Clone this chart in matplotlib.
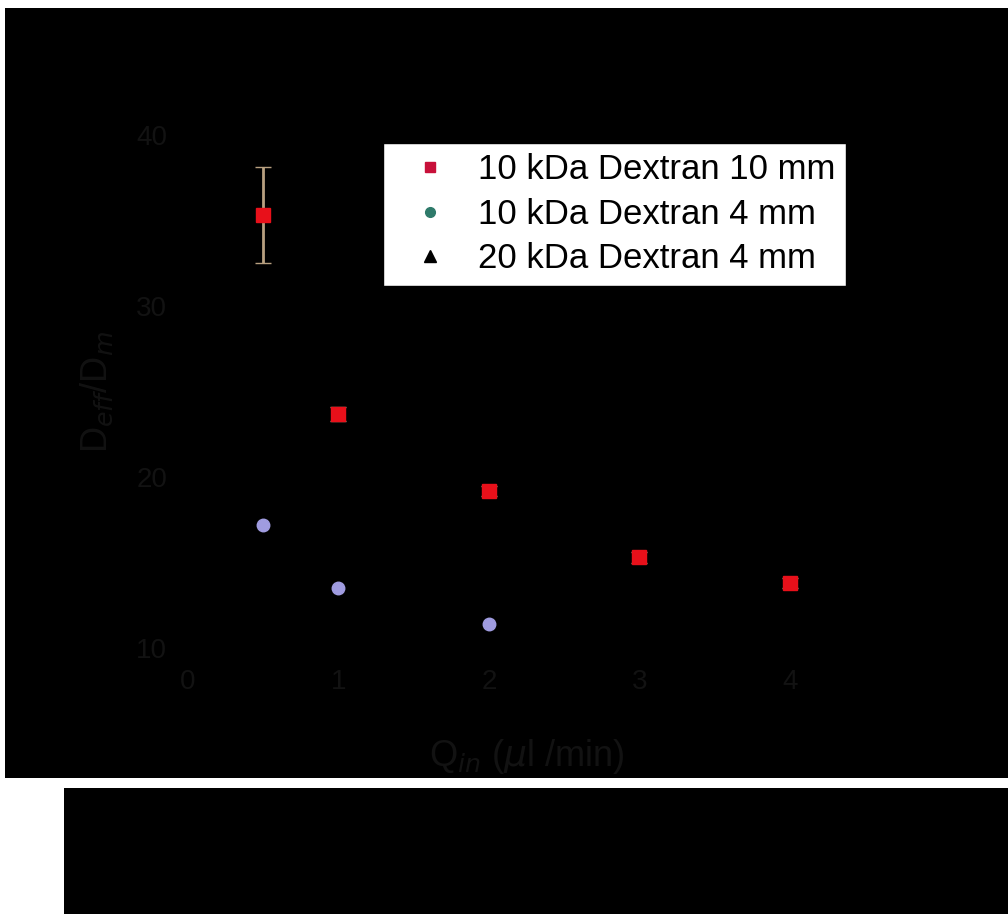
import matplotlib
matplotlib.use("Agg")
from matplotlib import pyplot as plt
from matplotlib.patches import Rectangle
from matplotlib.lines import Line2D

plt.rcParams['font.family'] = ['Liberation Sans', 'DejaVu Sans']

# data
q_red = [0.5, 1, 2, 3, 4]
ratio_red = [35.3, 23.7, 19.2, 15.3, 13.8]
err_red = [2.8, 0.4, 0.3, 0.3, 0.3]

q_blue = [0.5, 1, 2]
ratio_blue = [17.2, 13.5, 11.4]

q_black = []
ratio_black = []

labels = ["10 kDa Dextran 10 mm", "10 kDa Dextran 4 mm", "20 kDa Dextran 4 mm"]
x_ticks = [0, 1, 2, 3, 4]
y_ticks = [10, 20, 30, 40]

W, H = 1008, 914
fig = plt.figure(figsize=(W / 100, H / 100), dpi=100, facecolor='white')

# black panels behind the chart
fig.patches.append(Rectangle((5 / W, 1 - 778 / H), (W - 5) / W, (778 - 8) / H,
                             transform=fig.transFigure, facecolor='black', edgecolor='none', zorder=-5))
fig.patches.append(Rectangle((64 / W, 0), (W - 64) / W, (914 - 788) / H,
                             transform=fig.transFigure, facecolor='black', edgecolor='none', zorder=-5))

ax = fig.add_axes([188 / W, 1 - 648 / H, 677 / W, 513 / H])
ax.patch.set_alpha(0)
for s in ax.spines.values():
    s.set_color('black')

dim = '#121212'

ax.errorbar(q_red, ratio_red, yerr=err_red, fmt='s', color='#e8101a', markersize=10,
            ecolor='#b8a080', elinewidth=2, capsize=6, label=labels[0], zorder=3)
ax.plot(q_blue, ratio_blue, 'o', color='#a09ce0', markersize=9, label=labels[1], zorder=3)
ax.plot(q_black, ratio_black, '^', color='black', markersize=9, label=labels[2], zorder=3)

ax.set_xlim(0, 4.5)
ax.set_ylim(10, 40)
ax.set_xticks(x_ticks)
ax.set_yticks(y_ticks)
ax.tick_params(colors='black', labelcolor=dim, labelsize=20, length=5, pad=10)
ax.set_xlabel(r"Q$_{in}$ ($\mu$l /min)", color=dim, fontsize=26, labelpad=30)
ax.set_ylabel(r"D$_{eff}$/D$_m$", color=dim, fontsize=26, labelpad=15)

# legend handles: plain markers
handles = [
    Line2D([], [], marker='s', ls='', color='#c8103a', markersize=7),
    Line2D([], [], marker='o', ls='', color='#2e7a6a', markersize=7),
    Line2D([], [], marker='^', ls='', color='black', markersize=8),
]
leg = fig.legend(handles, labels, loc='upper left', bbox_to_anchor=(383 / W, 1 - 143 / H),
                 bbox_transform=fig.transFigure, fontsize=25, frameon=True, fancybox=False,
                 edgecolor='black', facecolor='white', framealpha=1, handlelength=2.1,
                 handletextpad=0.33, labelspacing=0.33, borderpad=0.3, borderaxespad=0)
leg.get_frame().set_linewidth(1)

fig.savefig("out.png", dpi=100, facecolor='white')
